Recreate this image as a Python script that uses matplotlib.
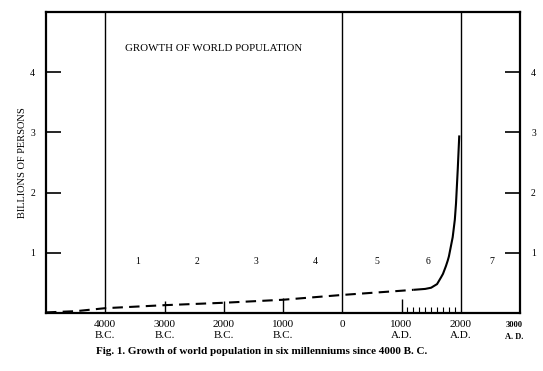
import matplotlib
matplotlib.use("Agg")
import matplotlib.pyplot as plt

# ---- data ----
years = [-5000, -4500, -4000, -3000, -2000, -1000, 0, 1000, 1200, 1400, 1500,
         1600, 1666, 1700, 1750, 1780, 1800, 1864, 1900, 1920, 1950, 1975]
pop = [0.01, 0.03, 0.08, 0.13, 0.17, 0.22, 0.30, 0.37, 0.385, 0.40, 0.42,
       0.48, 0.59, 0.65, 0.78, 0.87, 0.94, 1.26, 1.55, 1.82, 2.40, 2.95]
dash_end_year = 1200

era_lines = [-4000, 0, 2000]
millennium_marks = [-3000, -2000, -1000, 1000]
millennium_heights = [0.20, 0.20, 0.25, 0.23]
century_marks = [1100, 1200, 1300, 1400, 1500, 1600, 1700, 1800, 1900]
century_height = 0.10

period_labels = ["1", "2", "3", "4", "5", "6", "7"]
period_x = [-3450, -2450, -1450, -450, 580, 1440, 2530]
period_y = 0.86

xtick_pos = [-4000, -3000, -2000, -1000, 0, 1000, 2000]
xtick_labels = ["4000\nB.C.", "3000\nB.C.", "2000\nB.C.", "1000\nB.C.", "0",
                "1000\nA.D.", "2000\nA.D."]
ytick_pos = [1, 2, 3, 4]
ytick_labels = ["1", "2", "3", "4"]

title = "GROWTH OF WORLD POPULATION"
ylabel = "BILLIONS OF PERSONS"
caption = "Fig. 1. Growth of world population in six millenniums since 4000 B. C."

serif = ["Liberation Serif", "DejaVu Serif"]
plt.rcParams["font.family"] = serif

fig = plt.figure(figsize=(5.43, 3.71), dpi=100)
ax = fig.add_axes([46 / 543, 1 - 313 / 371, 474 / 543, 301 / 371])
ax.set_xlim(-5000, 3000)
ax.set_ylim(0, 5)

for s in ax.spines.values():
    s.set_linewidth(1.6)
    s.set_color("black")

# era vertical lines
for x in era_lines:
    ax.axvline(x, color="black", lw=1.0)

# population curve: dashed (estimates) then solid
i = years.index(dash_end_year)
ax.plot(years[:i + 1], pop[:i + 1], color="black", lw=1.5,
        linestyle=(0, (5, 3)))
ax.plot(years[i:], pop[i:], color="black", lw=1.5, solid_capstyle="butt",
        solid_joinstyle="round")

# marks along the baseline
ax.vlines(millennium_marks, 0, millennium_heights, color="black", lw=1.0)
ax.vlines(century_marks, 0, century_height, color="black", lw=0.8)

# period numbers
for lab, x in zip(period_labels, period_x):
    ax.text(x, period_y, lab, ha="center", va="center", fontsize=7)

ax.text(-2170, 4.4, title, ha="center", va="center", fontsize=7.8)

# ticks
ax.set_xticks(xtick_pos)
ax.set_xticklabels(xtick_labels, fontsize=8, linespacing=1.3)
ax.tick_params(axis="x", length=0, pad=5)
ax.set_yticks(ytick_pos)
ax.set_yticklabels(ytick_labels, fontsize=7)
ax.tick_params(axis="y", direction="in", length=10.5, width=1.2,
               left=True, right=True, labelleft=True, labelright=True, pad=8)

ax.text(2900, -0.13, "3000\nA. D.", ha="center", va="top", fontsize=6,
        fontweight="bold", linespacing=1.7)

ax.set_ylabel(ylabel, fontsize=7.5, labelpad=2)

fig.text(262 / 543, 1 - 351 / 371, caption, ha="center", va="center",
         fontsize=8, fontweight="bold")

fig.savefig("out.png", dpi=100)
